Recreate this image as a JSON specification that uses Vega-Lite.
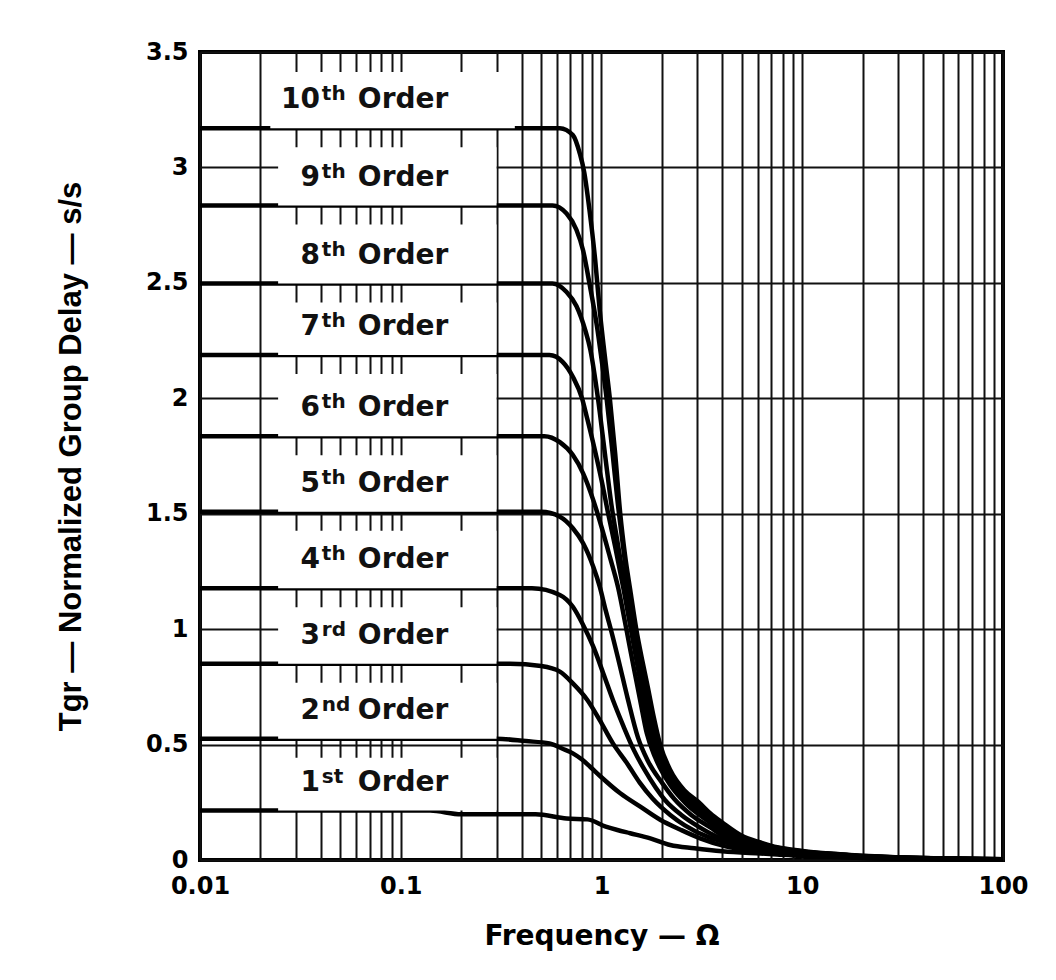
{
  "$schema": "https://vega.github.io/schema/vega-lite/v6.json",
  "width": 803,
  "height": 808,
  "autosize": {"type": "none"},
  "padding": {"left": 200, "top": 52, "right": 53, "bottom": 120},
  "background": "white",
  "config": {
    "view": {"stroke": "#000", "strokeWidth": 4},
    "axis": {
      "domain": false,
      "ticks": false,
      "gridColor": "#111",
      "gridOpacity": 1,
      "gridWidth": 2,
      "labelFont": "DejaVu Sans",
      "labelFontWeight": "bold",
      "labelFontSize": 24,
      "labelColor": "#000",
      "titleColor": "#000"
    }
  },
  "datasets": {
    "curves": [
      {"n":10,"f":0.01,"t":3.17},{"n":10,"f":0.62,"t":3.17},{"n":10,"f":0.72,"t":3.14},{"n":10,"f":0.78,"t":3.06},{"n":10,"f":0.82,"t":2.98},{"n":10,"f":0.87,"t":2.82},{"n":10,"f":0.93,"t":2.6},{"n":10,"f":0.98,"t":2.38},{"n":10,"f":1.04,"t":2.18},{"n":10,"f":1.1,"t":2.0},{"n":10,"f":1.17,"t":1.76},{"n":10,"f":1.24,"t":1.5},{"n":10,"f":1.31,"t":1.32},{"n":10,"f":1.39,"t":1.17},{"n":10,"f":1.49,"t":1.0},{"n":10,"f":1.6,"t":0.86},{"n":10,"f":1.7,"t":0.75},{"n":10,"f":1.82,"t":0.62},{"n":10,"f":1.96,"t":0.5},{"n":10,"f":2.2,"t":0.39},{"n":10,"f":2.6,"t":0.3},{"n":10,"f":3.05,"t":0.25},{"n":10,"f":3.5,"t":0.2},{"n":10,"f":4.0,"t":0.162},{"n":10,"f":5.0,"t":0.105},{"n":10,"f":6.2,"t":0.076},{"n":10,"f":7.5,"t":0.055},{"n":10,"f":9,"t":0.044},{"n":10,"f":10.5,"t":0.037},{"n":10,"f":15,"t":0.026},{"n":10,"f":20,"t":0.018},{"n":10,"f":30,"t":0.012},{"n":10,"f":50,"t":0.007},{"n":10,"f":100,"t":0.003},
      {"n":9,"f":0.01,"t":2.835},{"n":9,"f":0.57,"t":2.835},{"n":9,"f":0.67,"t":2.8},{"n":9,"f":0.75,"t":2.73},{"n":9,"f":0.81,"t":2.64},{"n":9,"f":0.87,"t":2.5},{"n":9,"f":0.95,"t":2.31},{"n":9,"f":1.0,"t":2.17},{"n":9,"f":1.06,"t":2.0},{"n":9,"f":1.13,"t":1.78},{"n":9,"f":1.2,"t":1.56},{"n":9,"f":1.28,"t":1.36},{"n":9,"f":1.37,"t":1.15},{"n":9,"f":1.47,"t":0.99},{"n":9,"f":1.58,"t":0.84},{"n":9,"f":1.7,"t":0.69},{"n":9,"f":1.85,"t":0.54},{"n":9,"f":2.0,"t":0.46},{"n":9,"f":2.2,"t":0.375},{"n":9,"f":2.6,"t":0.29},{"n":9,"f":2.95,"t":0.243},{"n":9,"f":3.5,"t":0.19},{"n":9,"f":4.0,"t":0.153},{"n":9,"f":4.84,"t":0.102},{"n":9,"f":6.2,"t":0.072},{"n":9,"f":7.5,"t":0.053},{"n":9,"f":9,"t":0.042},{"n":9,"f":10.5,"t":0.035},{"n":9,"f":15,"t":0.025},{"n":9,"f":20,"t":0.017},{"n":9,"f":30,"t":0.011},{"n":9,"f":50,"t":0.0065},{"n":9,"f":100,"t":0.003},
      {"n":8,"f":0.01,"t":2.497},{"n":8,"f":0.57,"t":2.497},{"n":8,"f":0.67,"t":2.46},{"n":8,"f":0.75,"t":2.4},{"n":8,"f":0.83,"t":2.295},{"n":8,"f":0.88,"t":2.21},{"n":8,"f":0.96,"t":2.0},{"n":8,"f":1.04,"t":1.76},{"n":8,"f":1.12,"t":1.54},{"n":8,"f":1.2,"t":1.38},{"n":8,"f":1.3,"t":1.2},{"n":8,"f":1.42,"t":1.02},{"n":8,"f":1.55,"t":0.84},{"n":8,"f":1.66,"t":0.7},{"n":8,"f":1.8,"t":0.55},{"n":8,"f":2.0,"t":0.44},{"n":8,"f":2.2,"t":0.36},{"n":8,"f":2.6,"t":0.28},{"n":8,"f":2.85,"t":0.24},{"n":8,"f":3.5,"t":0.18},{"n":8,"f":4.0,"t":0.145},{"n":8,"f":4.62,"t":0.105},{"n":8,"f":5.0,"t":0.09},{"n":8,"f":6.2,"t":0.068},{"n":8,"f":7.5,"t":0.051},{"n":8,"f":9,"t":0.04},{"n":8,"f":10.5,"t":0.034},{"n":8,"f":15,"t":0.024},{"n":8,"f":20,"t":0.016},{"n":8,"f":30,"t":0.0105},{"n":8,"f":50,"t":0.006},{"n":8,"f":100,"t":0.003},
      {"n":7,"f":0.01,"t":2.187},{"n":7,"f":0.55,"t":2.187},{"n":7,"f":0.64,"t":2.158},{"n":7,"f":0.72,"t":2.093},{"n":7,"f":0.8,"t":2.0},{"n":7,"f":0.85,"t":1.91},{"n":7,"f":0.93,"t":1.77},{"n":7,"f":1.0,"t":1.646},{"n":7,"f":1.08,"t":1.5},{"n":7,"f":1.17,"t":1.357},{"n":7,"f":1.29,"t":1.17},{"n":7,"f":1.4,"t":1.0},{"n":7,"f":1.52,"t":0.83},{"n":7,"f":1.63,"t":0.68},{"n":7,"f":1.75,"t":0.54},{"n":7,"f":2.0,"t":0.42},{"n":7,"f":2.2,"t":0.345},{"n":7,"f":2.6,"t":0.27},{"n":7,"f":2.8,"t":0.235},{"n":7,"f":3.5,"t":0.17},{"n":7,"f":4.0,"t":0.137},{"n":7,"f":4.42,"t":0.108},{"n":7,"f":5.0,"t":0.084},{"n":7,"f":6.2,"t":0.064},{"n":7,"f":7.5,"t":0.049},{"n":7,"f":9,"t":0.038},{"n":7,"f":10.5,"t":0.032},{"n":7,"f":15,"t":0.022},{"n":7,"f":20,"t":0.015},{"n":7,"f":30,"t":0.0095},{"n":7,"f":50,"t":0.0055},{"n":7,"f":100,"t":0.003},
      {"n":6,"f":0.01,"t":1.836},{"n":6,"f":0.52,"t":1.836},{"n":6,"f":0.62,"t":1.81},{"n":6,"f":0.72,"t":1.754},{"n":6,"f":0.81,"t":1.675},{"n":6,"f":0.91,"t":1.559},{"n":6,"f":1.0,"t":1.443},{"n":6,"f":1.1,"t":1.314},{"n":6,"f":1.21,"t":1.18},{"n":6,"f":1.33,"t":1.0},{"n":6,"f":1.45,"t":0.83},{"n":6,"f":1.56,"t":0.69},{"n":6,"f":1.68,"t":0.55},{"n":6,"f":1.85,"t":0.445},{"n":6,"f":2.2,"t":0.325},{"n":6,"f":2.5,"t":0.265},{"n":6,"f":2.7,"t":0.235},{"n":6,"f":3.5,"t":0.16},{"n":6,"f":4.22,"t":0.105},{"n":6,"f":5.0,"t":0.078},{"n":6,"f":6.2,"t":0.06},{"n":6,"f":7.5,"t":0.047},{"n":6,"f":9,"t":0.036},{"n":6,"f":10.5,"t":0.03},{"n":6,"f":15,"t":0.021},{"n":6,"f":20,"t":0.014},{"n":6,"f":30,"t":0.009},{"n":6,"f":50,"t":0.005},{"n":6,"f":100,"t":0.0025},
      {"n":5,"f":0.01,"t":1.508},{"n":5,"f":0.5,"t":1.508},{"n":5,"f":0.62,"t":1.487},{"n":5,"f":0.72,"t":1.437},{"n":5,"f":0.81,"t":1.372},{"n":5,"f":0.91,"t":1.27},{"n":5,"f":0.98,"t":1.184},{"n":5,"f":1.05,"t":1.08},{"n":5,"f":1.12,"t":0.99},{"n":5,"f":1.22,"t":0.86},{"n":5,"f":1.35,"t":0.7},{"n":5,"f":1.52,"t":0.53},{"n":5,"f":1.7,"t":0.43},{"n":5,"f":2.0,"t":0.335},{"n":5,"f":2.3,"t":0.265},{"n":5,"f":2.8,"t":0.195},{"n":5,"f":3.5,"t":0.14},{"n":5,"f":3.98,"t":0.108},{"n":5,"f":5.0,"t":0.072},{"n":5,"f":6.2,"t":0.056},{"n":5,"f":7.5,"t":0.044},{"n":5,"f":9,"t":0.034},{"n":5,"f":10.5,"t":0.028},{"n":5,"f":15,"t":0.02},{"n":5,"f":20,"t":0.013},{"n":5,"f":30,"t":0.0085},{"n":5,"f":50,"t":0.005},{"n":5,"f":100,"t":0.0025},
      {"n":4,"f":0.01,"t":1.177},{"n":4,"f":0.45,"t":1.177},{"n":4,"f":0.62,"t":1.148},{"n":4,"f":0.72,"t":1.097},{"n":4,"f":0.81,"t":1.018},{"n":4,"f":0.91,"t":0.924},{"n":4,"f":1.02,"t":0.809},{"n":4,"f":1.14,"t":0.693},{"n":4,"f":1.29,"t":0.577},{"n":4,"f":1.45,"t":0.476},{"n":4,"f":1.64,"t":0.39},{"n":4,"f":2.07,"t":0.26},{"n":4,"f":2.5,"t":0.195},{"n":4,"f":3.0,"t":0.148},{"n":4,"f":3.72,"t":0.103},{"n":4,"f":5.0,"t":0.067},{"n":4,"f":6.2,"t":0.052},{"n":4,"f":7.5,"t":0.041},{"n":4,"f":9,"t":0.032},{"n":4,"f":10.5,"t":0.027},{"n":4,"f":15,"t":0.019},{"n":4,"f":20,"t":0.0125},{"n":4,"f":30,"t":0.008},{"n":4,"f":50,"t":0.0045},{"n":4,"f":100,"t":0.0025},
      {"n":3,"f":0.01,"t":0.85},{"n":3,"f":0.35,"t":0.85},{"n":3,"f":0.5,"t":0.84},{"n":3,"f":0.62,"t":0.816},{"n":3,"f":0.72,"t":0.765},{"n":3,"f":0.85,"t":0.693},{"n":3,"f":0.98,"t":0.606},{"n":3,"f":1.14,"t":0.505},{"n":3,"f":1.34,"t":0.419},{"n":3,"f":1.55,"t":0.335},{"n":3,"f":1.8,"t":0.265},{"n":3,"f":2.2,"t":0.195},{"n":3,"f":2.6,"t":0.15},{"n":3,"f":3.39,"t":0.1},{"n":3,"f":4.0,"t":0.08},{"n":3,"f":5.0,"t":0.06},{"n":3,"f":6.2,"t":0.047},{"n":3,"f":7.5,"t":0.038},{"n":3,"f":9,"t":0.03},{"n":3,"f":10.5,"t":0.025},{"n":3,"f":15,"t":0.018},{"n":3,"f":20,"t":0.012},{"n":3,"f":30,"t":0.0075},{"n":3,"f":50,"t":0.0045},{"n":3,"f":100,"t":0.002},
      {"n":2,"f":0.01,"t":0.525},{"n":2,"f":0.3,"t":0.525},{"n":2,"f":0.42,"t":0.515},{"n":2,"f":0.55,"t":0.505},{"n":2,"f":0.64,"t":0.482},{"n":2,"f":0.72,"t":0.462},{"n":2,"f":0.8,"t":0.435},{"n":2,"f":0.88,"t":0.403},{"n":2,"f":0.98,"t":0.365},{"n":2,"f":1.24,"t":0.289},{"n":2,"f":1.56,"t":0.231},{"n":2,"f":1.97,"t":0.173},{"n":2,"f":2.49,"t":0.13},{"n":2,"f":3.1,"t":0.094},{"n":2,"f":4.2,"t":0.058},{"n":2,"f":6.2,"t":0.037},{"n":2,"f":7.5,"t":0.032},{"n":2,"f":9,"t":0.026},{"n":2,"f":10.5,"t":0.022},{"n":2,"f":15,"t":0.016},{"n":2,"f":20,"t":0.011},{"n":2,"f":30,"t":0.007},{"n":2,"f":50,"t":0.004},{"n":2,"f":100,"t":0.002},
      {"n":1,"f":0.01,"t":0.214},{"n":1,"f":0.14,"t":0.214},{"n":1,"f":0.2,"t":0.198},{"n":1,"f":0.47,"t":0.198},{"n":1,"f":0.67,"t":0.18},{"n":1,"f":0.85,"t":0.176},{"n":1,"f":1.05,"t":0.145},{"n":1,"f":1.2,"t":0.13},{"n":1,"f":1.39,"t":0.116},{"n":1,"f":1.75,"t":0.094},{"n":1,"f":2.2,"t":0.065},{"n":1,"f":2.9,"t":0.051},{"n":1,"f":4.0,"t":0.038},{"n":1,"f":6.2,"t":0.028},{"n":1,"f":7.5,"t":0.024},{"n":1,"f":9,"t":0.02},{"n":1,"f":10.5,"t":0.018},{"n":1,"f":15,"t":0.013},{"n":1,"f":20,"t":0.009},{"n":1,"f":30,"t":0.006},{"n":1,"f":50,"t":0.0035},{"n":1,"f":100,"t":0.002}
    ],
    "labels": [
      {"n":10,"num":"10","sup":"th","top":3.5,"bot":3.17},
      {"n":9,"num":"9","sup":"th","top":3.17,"bot":2.835},
      {"n":8,"num":"8","sup":"th","top":2.835,"bot":2.497},
      {"n":7,"num":"7","sup":"th","top":2.497,"bot":2.187},
      {"n":6,"num":"6","sup":"th","top":2.187,"bot":1.836},
      {"n":5,"num":"5","sup":"th","top":1.836,"bot":1.508},
      {"n":4,"num":"4","sup":"th","top":1.508,"bot":1.177},
      {"n":3,"num":"3","sup":"rd","top":1.177,"bot":0.85},
      {"n":2,"num":"2","sup":"nd","top":0.85,"bot":0.525},
      {"n":1,"num":"1","sup":"st","top":0.525,"bot":0.214}
    ]
  },
  "layer": [
    {
      "data": {"name": "curves"},
      "mark": {"type": "line", "color": "#000", "strokeWidth": 4.5, "interpolate": "monotone"},
      "encoding": {
        "x": {
          "field": "f", "type": "quantitative",
          "scale": {"type": "log", "domain": [0.01, 100], "nice": false},
          "axis": {
            "title": "Frequency — Ω",
            "titleFont": "DejaVu Sans", "titleFontWeight": "bold", "titleFontSize": 28,
            "titlePadding": 24,
            "labelPadding": 14,
            "labelFlush": false,
            "format": "~g",
            "values": [0.01,0.02,0.03,0.04,0.05,0.06,0.07,0.08,0.09,0.1,0.2,0.3,0.4,0.5,0.6,0.7,0.8,0.9,1,2,3,4,5,6,7,8,9,10,20,30,40,50,60,70,80,90,100],
            "labelExpr": "indexof([0.01,0.1,1,10,100], datum.value) >= 0 ? datum.label : ''",
            "labelOverlap": false
          }
        },
        "y": {
          "field": "t", "type": "quantitative",
          "scale": {"domain": [0, 3.5], "nice": false},
          "axis": {
            "title": "Tgr — Normalized Group Delay — s/s",
            "titleFont": "Liberation Sans", "titleFontWeight": "bold", "titleFontSize": 31,
            "titlePadding": 58,
            "labelPadding": 12,
            "format": "~g",
            "values": [0, 0.5, 1, 1.5, 2, 2.5, 3, 3.5]
          }
        },
        "detail": {"field": "n", "type": "nominal"}
      }
    },
    {
      "data": {"name": "labels"},
      "transform": [{"filter": "datum.n < 10"}],
      "mark": {"type": "rect", "fill": "#fff", "yOffset": 19},
      "encoding": {
        "x": {"datum": 0.0245},
        "x2": {"datum": 0.3},
        "y": {"field": "top", "type": "quantitative"},
        "y2": {"field": "bot"}
      }
    },
    {
      "data": {"name": "labels"},
      "transform": [{"filter": "datum.n == 10"}],
      "mark": {"type": "rect", "fill": "#fff", "yOffset": 20},
      "encoding": {
        "x": {"datum": 0.0224},
        "x2": {"datum": 0.37},
        "y": {"field": "top", "type": "quantitative"},
        "y2": {"field": "bot"}
      }
    },
    {
      "data": {"name": "labels"},
      "mark": {"type": "text", "align": "right", "baseline": "middle", "dx": -1, "dy": -28, "font": "DejaVu Sans", "fontWeight": "bold", "fontSize": 28, "color": "#111"},
      "encoding": {
        "x": {"datum": 0.04},
        "y": {"field": "bot", "type": "quantitative"},
        "text": {"field": "num"}
      }
    },
    {
      "data": {"name": "labels"},
      "mark": {"type": "text", "align": "left", "baseline": "alphabetic", "dx": 1, "dy": -28, "font": "DejaVu Sans", "fontWeight": "bold", "fontSize": 20, "color": "#111"},
      "encoding": {
        "x": {"datum": 0.04},
        "y": {"field": "bot", "type": "quantitative"},
        "text": {"field": "sup"}
      }
    },
    {
      "data": {"name": "labels"},
      "mark": {"type": "text", "align": "left", "baseline": "middle", "dx": 37, "dy": -28, "font": "DejaVu Sans", "fontWeight": "bold", "fontSize": 28, "color": "#111"},
      "encoding": {
        "x": {"datum": 0.04},
        "y": {"field": "bot", "type": "quantitative"},
        "text": {"value": "Order"}
      }
    }
  ]
}
